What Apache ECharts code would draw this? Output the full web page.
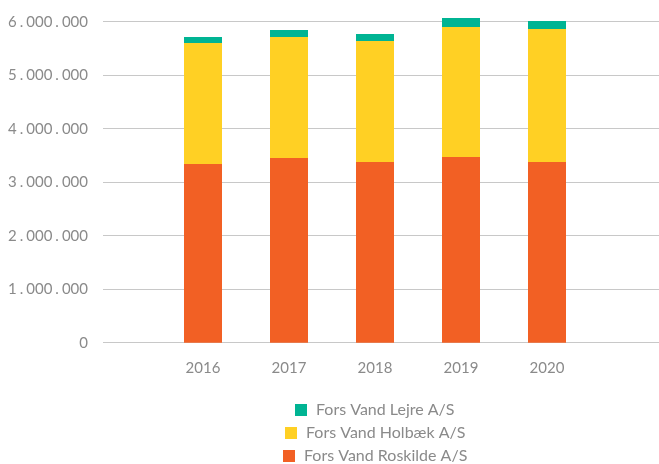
<!DOCTYPE html>
<html>
<head>
<meta charset="utf-8">
<script src="https://cdn.jsdelivr.net/npm/echarts@6/dist/echarts.min.js"></script>
<style>html,body{margin:0;padding:0;background:#fff;}#c{width:659px;height:464px;}</style>
</head>
<body>
<div id="c"></div>
<script>
const categories = ['2016', '2017', '2018', '2019', '2020'];
const roskilde = [3340000, 3452000, 3378000, 3471000, 3378000];
const holbaek = [2262000, 2262000, 2261000, 2430000, 2486000];
const lejre = [112000, 131000, 131000, 168000, 149000];
const yTicks = { min: 0, max: 6000000, interval: 1000000 };

const FONT = 'Lato';
const GRAY = '#8a8a8a';
const fmt = v => String(v).replace(/\B(?=(\d{3})+(?!\d))/g, '.').replace(/\./g, '{p|.}');

const chart = echarts.init(document.getElementById('c'));
const gTop = 21.7, gBottom = 121.3;
const LFS = 16;
const ctx = document.createElement('canvas').getContext('2d');
ctx.font = LFS + 'px ' + FONT;
const LEGEND_CENTER = 375;
const legendRow = (name, t) => {
  const w = 12 + 5 + 4 + ctx.measureText(name).width;
  return {
    data: [name], left: Math.round(LEGEND_CENTER - w / 2), top: t, itemWidth: 12, itemHeight: 12, icon: 'rect',
    selectedMode: false, padding: 0,
    textStyle: { color: GRAY, fontFamily: FONT, fontSize: LFS, padding: [0, 0, 0, 4] }
  };
};
chart.setOption({
  animation: false,
  grid: [
    { left: 103, right: 0, top: gTop, bottom: gBottom },
    { left: 160, right: 69, top: gTop, bottom: gBottom }
  ],
  legend: [
    legendRow('Fors Vand Lejre A/S', 402),
    legendRow('Fors Vand Holbæk A/S', 425),
    legendRow('Fors Vand Roskilde A/S', 448)
  ],
  xAxis: [
    { gridIndex: 0, type: 'value', min: 0, max: 1, show: false },
    { gridIndex: 1, type: 'category', data: categories,
      axisLine: { show: false }, axisTick: { show: false },
      axisLabel: { color: GRAY, fontFamily: FONT, fontSize: 15, margin: 18 } }
  ],
  yAxis: [
    { gridIndex: 0, type: 'value', min: yTicks.min, max: yTicks.max, interval: yTicks.interval,
      axisLine: { show: false }, axisTick: { show: false },
      splitLine: { lineStyle: { color: '#c8c8c8', width: 1 } },
      axisLabel: { color: GRAY, fontFamily: FONT, fontSize: 15, margin: 15, formatter: fmt,
        rich: { p: { color: GRAY, fontFamily: FONT, fontSize: 15, padding: [0, 3, 0, 3] } } } },
    { gridIndex: 1, type: 'value', min: yTicks.min, max: yTicks.max, interval: yTicks.interval, show: false }
  ],
  series: [
    { name: 'Fors Vand Roskilde A/S', type: 'bar', stack: 's', xAxisIndex: 1, yAxisIndex: 1, clip: false,
      barWidth: 38, data: roskilde, itemStyle: { color: '#f26024' } },
    { name: 'Fors Vand Holbæk A/S', type: 'bar', stack: 's', xAxisIndex: 1, yAxisIndex: 1, clip: false,
      barWidth: 38, data: holbaek, itemStyle: { color: '#ffd024' } },
    { name: 'Fors Vand Lejre A/S', type: 'bar', stack: 's', xAxisIndex: 1, yAxisIndex: 1, clip: false,
      barWidth: 38, data: lejre, itemStyle: { color: '#00b493' } }
  ]
});
</script>
</body>
</html>
